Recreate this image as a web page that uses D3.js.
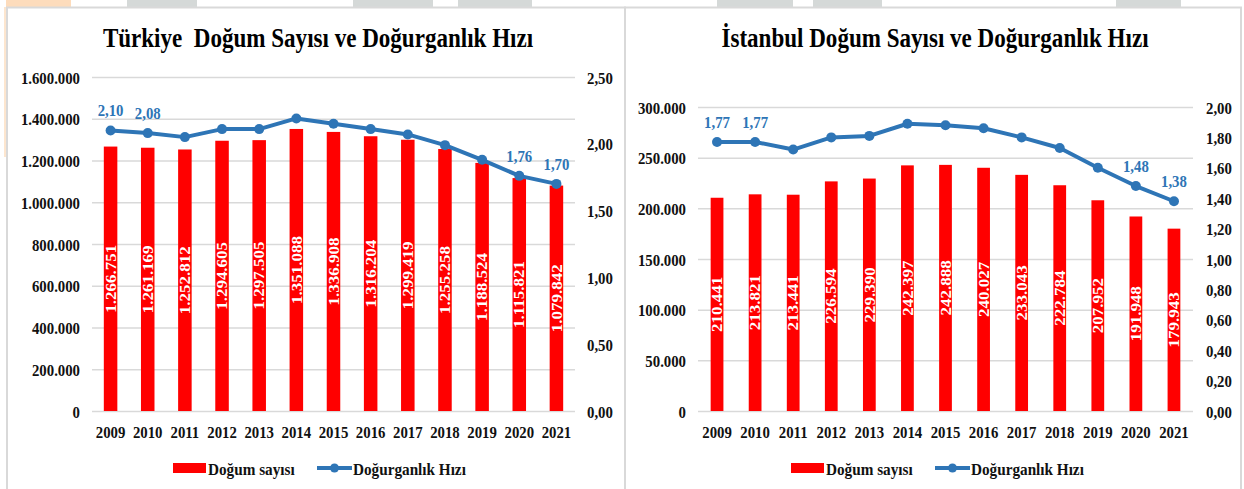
<!DOCTYPE html>
<html lang="tr">
<head>
  <meta charset="UTF-8">
  <title>Doğum Sayısı ve Doğurganlık Hızı</title>
  <script src="https://cdn.jsdelivr.net/npm/d3@7/dist/d3.min.js"></script>
  <style>
    body { margin: 0; background: #fff; }
    svg { display: block; font-family: "Liberation Serif", "Times New Roman", serif; font-weight: bold; }
    svg text { font-family: "Liberation Serif", "Times New Roman", serif; white-space: pre; }
  </style>
</head>
<body>
  <div id="wrapper"></div>
  <script>
    // data
    const years = ["2009", "2010", "2011", "2012", "2013", "2014", "2015", "2016", "2017", "2018", "2019", "2020", "2021"]
    const trBirths = [1266751, 1261169, 1252812, 1294605, 1297505, 1351088, 1336908, 1316204, 1299419, 1255258, 1188524, 1115821, 1079842]
    const trRate = [2.10, 2.08, 2.05, 2.11, 2.11, 2.19, 2.15, 2.11, 2.07, 1.99, 1.88, 1.76, 1.70]
    const istBirths = [210441, 213821, 213441, 226594, 229390, 242397, 242888, 240027, 233043, 222784, 207952, 191948, 179943]
    const istRate = [1.77, 1.77, 1.72, 1.80, 1.81, 1.89, 1.88, 1.86, 1.80, 1.73, 1.60, 1.48, 1.38]
    const rateLabelYears = ["2009", "2010", "2020", "2021"]
    const seriesNames = ["Doğum sayısı", "Doğurganlık Hızı"]

    const RED = "#ff0000"
    const BLUE = "#2e75b6"
    const SX = 0.87 // the source picture is squeezed horizontally

    const tr = d3.formatLocale({ decimal: ",", thousands: ".", grouping: [3], currency: ["", ""] })
    const fmtInt = tr.format(",d")
    const fmtDec = tr.format(".2f")

    const svg = d3.select("#wrapper").append("svg")
      .attr("width", 1244)
      .attr("height", 489)

    // screenshot leftovers along the top edge
    const topStrips = [[127, 197], [353, 433], [458, 532], [717, 793], [813, 882], [1116, 1181]]
    svg.selectAll("rect.strip").data(topStrips).join("rect")
      .attr("class", "strip")
      .attr("x", d => d[0]).attr("y", 0)
      .attr("width", d => d[1] - d[0]).attr("height", 7)
      .attr("fill", "#d5d9d8")
    svg.append("rect").attr("x", 6).attr("y", 0).attr("width", 65).attr("height", 7).attr("fill", "#fddcbc")
    svg.append("rect").attr("x", 4).attr("y", 7).attr("width", 2).attr("height", 150).attr("fill", "#fde6cf")

    const sq = (x, y) => `translate(${x},${y}) scale(${SX},1)`

    function styleTicks(sel) {
      sel.attr("font-family", null).attr("font-size", null)
      sel.select(".domain").remove()
      sel.selectAll("text")
        .attr("font-size", 17).attr("fill", "#111")
        .attr("dy", null)
        .attr("transform", `scale(${SX},1)`)
    }

    function drawPanel(p) {
      const g = svg.append("g")
      g.append("rect")
        .attr("x", p.px).attr("y", 7.5)
        .attr("width", p.pw).attr("height", 500)
        .attr("fill", "none").attr("stroke", "#d9d9d9").attr("stroke-width", 2)

      g.append("text")
        .attr("transform", sq(p.titleX, 47))
        .attr("text-anchor", "middle")
        .attr("font-size", 26.5)
        .attr("fill", "#000")
        .text(p.title)

      const x = d3.scaleBand().domain(years).range([p.x0, p.x1])
        .paddingInner(p.pad).paddingOuter(p.pad / 2)
      const yL = d3.scaleLinear().domain([0, p.leftMax]).range([p.yBottom, p.yTop])
      const yR = d3.scaleLinear().domain([0, p.rightMax]).range([p.yBottom, p.yTop])

      // left axis + gridlines
      const ax = g.append("g")
        .attr("transform", `translate(${p.x0},0)`)
        .call(d3.axisLeft(yL)
          .tickValues(d3.range(0, p.leftMax + 1, p.leftStep))
          .tickFormat(fmtInt)
          .tickSize(-(p.x1 - p.x0)))
      styleTicks(ax)
      ax.selectAll("line").attr("stroke", "#d9d9d9").attr("stroke-width", 1.5)
      ax.selectAll("text").attr("x", -12 / SX).attr("y", 6)

      // right axis
      const ar = g.append("g")
        .attr("transform", `translate(${p.x1},0)`)
        .call(d3.axisRight(yR)
          .tickValues(d3.range(0, Math.round(p.rightMax / p.rightStep) + 1).map(i => i * p.rightStep))
          .tickFormat(fmtDec)
          .tickSize(0))
      styleTicks(ar)
      ar.selectAll("text").attr("x", p.rGap / SX).attr("y", 6)

      // x axis
      const axb = g.append("g")
        .attr("transform", `translate(0,${p.yBottom})`)
        .call(d3.axisBottom(x).tickSize(0))
      styleTicks(axb)
      axb.selectAll("text").attr("y", 27)

      // bars
      const rows = years.map((yr, i) => ({ yr, births: p.births[i], rate: p.rate[i] }))
      g.append("g").selectAll("rect").data(rows).join("rect")
        .attr("x", d => x(d.yr))
        .attr("y", d => yL(d.births))
        .attr("width", x.bandwidth())
        .attr("height", d => yL(0) - yL(d.births))
        .attr("fill", RED)

      g.append("g").selectAll("text").data(rows).join("text")
        .attr("transform", d => `translate(${x(d.yr) + x.bandwidth() / 2},${(yL(d.births) + yL(0)) / 2}) scale(${SX},1) rotate(-90)`)
        .attr("text-anchor", "middle")
        .attr("dy", "0.35em")
        .attr("font-size", 17)
        .attr("fill", "#fff")
        .text(d => fmtInt(d.births))

      // rate line
      const cx = d => x(d.yr) + x.bandwidth() / 2
      const line = d3.line().x(cx).y(d => yR(d.rate))
      g.append("path")
        .attr("d", line(rows))
        .attr("fill", "none")
        .attr("stroke", BLUE)
        .attr("stroke-width", 4)
        .attr("stroke-linejoin", "round")
      g.append("g").selectAll("circle").data(rows).join("circle")
        .attr("cx", cx).attr("cy", d => yR(d.rate)).attr("r", 5)
        .attr("fill", BLUE)
      g.append("g").selectAll("text").data(rows.filter(d => rateLabelYears.includes(d.yr))).join("text")
        .attr("transform", d => sq(cx(d), yR(d.rate) - 14))
        .attr("text-anchor", "middle")
        .attr("font-size", 17)
        .attr("fill", BLUE)
        .text(d => fmtDec(d.rate))

      // legend
      const lg = g.append("g")
      lg.append("rect").attr("x", p.legRect).attr("y", 463).attr("width", 33).attr("height", 10).attr("fill", RED)
      lg.append("text").attr("transform", sq(p.legRect + 35, 475)).attr("font-size", 17.5).attr("fill", "#111").text(seriesNames[0])
      lg.append("line").attr("x1", p.legLine).attr("x2", p.legLine + 35).attr("y1", 468).attr("y2", 468)
        .attr("stroke", BLUE).attr("stroke-width", 4)
      lg.append("circle").attr("cx", p.legLine + 17.5).attr("cy", 468).attr("r", 4.5).attr("fill", BLUE)
      lg.append("text").attr("transform", sq(p.legLine + 36, 475)).attr("font-size", 17.5).attr("fill", "#111").text(seriesNames[1])
    }

    drawPanel({
      title: "Türkiye  Doğum Sayısı ve Doğurganlık Hızı",
      births: trBirths, rate: trRate,
      leftMax: 1600000, leftStep: 200000, rightMax: 2.5, rightStep: 0.5,
      px: 7, pw: 618, titleX: 318,
      x0: 92, x1: 575, yTop: 77, yBottom: 411, pad: 0.636, rGap: 12,
      legRect: 173, legLine: 317
    })
    drawPanel({
      title: "İstanbul Doğum Sayısı ve Doğurganlık Hızı",
      births: istBirths, rate: istRate,
      leftMax: 300000, leftStep: 50000, rightMax: 2.0, rightStep: 0.2,
      px: 625, pw: 616, titleX: 935,
      x0: 698, x1: 1193, yTop: 107, yBottom: 411, pad: 0.665, rGap: 13,
      legRect: 791, legLine: 935
    })
  </script>
</body>
</html>
